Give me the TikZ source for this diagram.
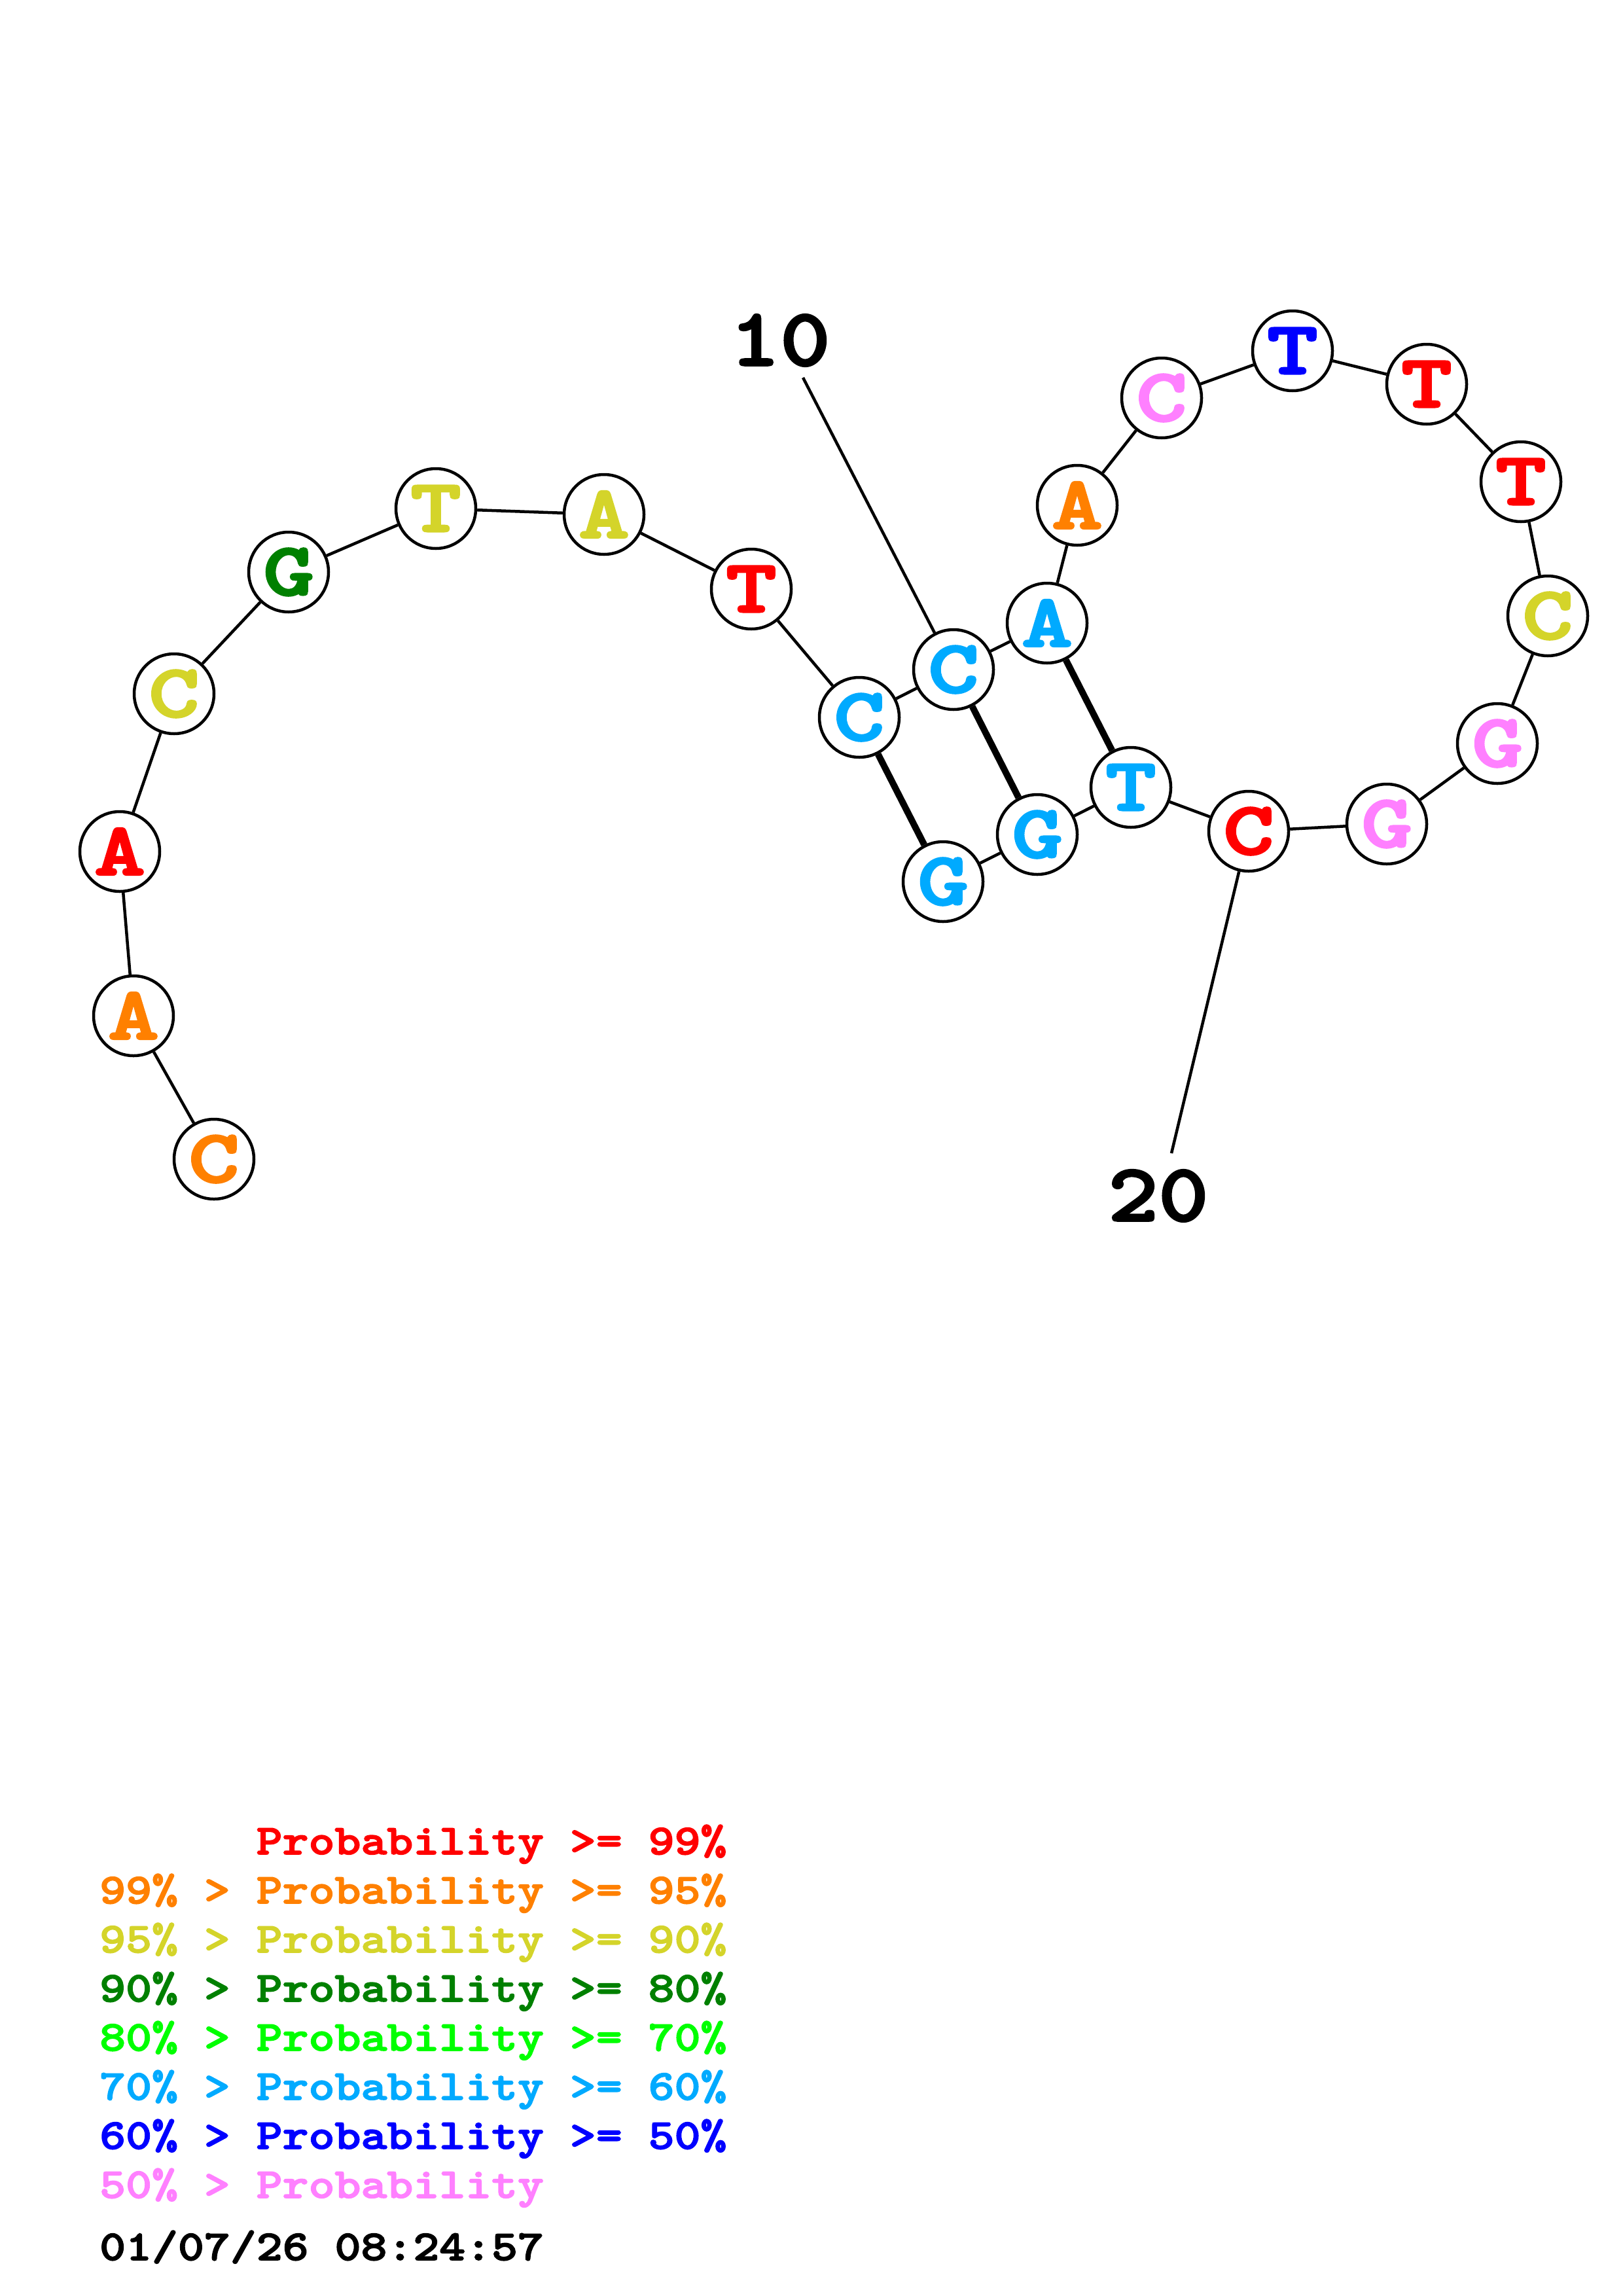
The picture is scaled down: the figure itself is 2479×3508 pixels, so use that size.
\documentclass[tikz,border=0pt]{standalone}
\usepackage{fontspec}
\newfontfamily\cour{lmmonolt10-bold.otf}[FakeBold=2.5,FakeStretch=1.17]
\newfontfamily\courw{lmmonolt10-bold.otf}[FakeBold=3,FakeStretch=1.3]
\definecolor{cR}{HTML}{FF0000}
\definecolor{cO}{HTML}{FF8000}
\definecolor{cY}{HTML}{D4D42A}
\definecolor{cDG}{HTML}{008000}
\definecolor{cG}{HTML}{00FF00}
\definecolor{cLB}{HTML}{00AAFF}
\definecolor{cB}{HTML}{0000FF}
\definecolor{cP}{HTML}{FF80FF}
\newcommand\basefont{\courw\fontsize{114}{114}\selectfont}
\newcommand\legfont{\cour\fontsize{65}{65}\selectfont}
\newcommand\labfont{\cour\fontsize{125}{125}\selectfont}
\begin{document}
\begin{tikzpicture}[x=1pt,y=-1pt,
  base/.style={circle, draw=black, line width=4.5pt, fill=white, minimum size=122pt, inner sep=0pt, font=\basefont},
  bb/.style={line width=4.5pt, black},
  pair/.style={line width=10pt, black},
  leg/.style={anchor=base west, inner sep=0pt, font=\legfont},
  lab/.style={inner sep=0pt, font=\labfont, text=black}]
\useasboundingbox (0,0) rectangle (2479,3508);
\node[base,text=cO]  (n1)  at (327,1771) {C};
\node[base,text=cO]  (n2)  at (204,1552) {A};
\node[base,text=cR]  (n3)  at (183,1301) {A};
\node[base,text=cY]  (n4)  at (266,1060) {C};
\node[base,text=cDG] (n5)  at (441,874)  {G};
\node[base,text=cY]  (n6)  at (666,777)  {T};
\node[base,text=cY]  (n7)  at (923,786)  {A};
\node[base,text=cR]  (n8)  at (1148,900) {T};
\node[base,text=cLB] (n9)  at (1313,1096) {C};
\node[base,text=cLB] (n10) at (1457,1023) {C};
\node[base,text=cLB] (n11) at (1600,952) {A};
\node[base,text=cO]  (n12) at (1646,772) {A};
\node[base,text=cP]  (n13) at (1775,608) {C};
\node[base,text=cB]  (n14) at (1975,536) {T};
\node[base,text=cR]  (n15) at (2180,587) {T};
\node[base,text=cR]  (n16) at (2324,736) {T};
\node[base,text=cY]  (n17) at (2365,941) {C};
\node[base,text=cP]  (n18) at (2288,1136) {G};
\node[base,text=cP]  (n19) at (2119,1259) {G};
\node[base,text=cR]  (n20) at (1908,1270) {C};
\node[base,text=cLB] (n21) at (1728,1203) {T};
\node[base,text=cLB] (n22) at (1585,1275) {G};
\node[base,text=cLB] (n23) at (1441,1347) {G};
\foreach \a/\b in {1/2,2/3,3/4,4/5,5/6,6/7,7/8,8/9,9/10,10/11,11/12,12/13,13/14,14/15,15/16,16/17,17/18,18/19,19/20,20/21,21/22,22/23}
  \draw[bb] (n\a) -- (n\b);
\draw[pair] (n9) -- (n23);
\draw[pair] (n10) -- (n22);
\draw[pair] (n11) -- (n21);
\node[lab] (t10) at (1192,520) {10};
\coordinate (s10) at (1227,577);
\draw[bb] (s10) -- (n10);
\node[lab] (t20) at (1770,1827) {20};
\coordinate (s20) at (1790,1762);
\draw[bb] (s20) -- (n20);
\node[leg,text=cR]  (g1) at (152,2833) {\phantom{99\% >} Probability >= 99\%};
\node[leg,text=cO]  (g2) at (152,2908) {99\% > Probability >= 95\%};
\node[leg,text=cY]  (g3) at (152,2983) {95\% > Probability >= 90\%};
\node[leg,text=cDG] (g4) at (152,3058) {90\% > Probability >= 80\%};
\node[leg,text=cG]  (g5) at (152,3133) {80\% > Probability >= 70\%};
\node[leg,text=cLB] (g6) at (152,3208) {70\% > Probability >= 60\%};
\node[leg,text=cB]  (g7) at (152,3283) {60\% > Probability >= 50\%};
\node[leg,text=cP]  (g8) at (152,3358) {50\% > Probability};
\node[leg,text=black] (g9) at (152,3453) {01/07/26 08:24:57};
\end{tikzpicture}
\end{document}
